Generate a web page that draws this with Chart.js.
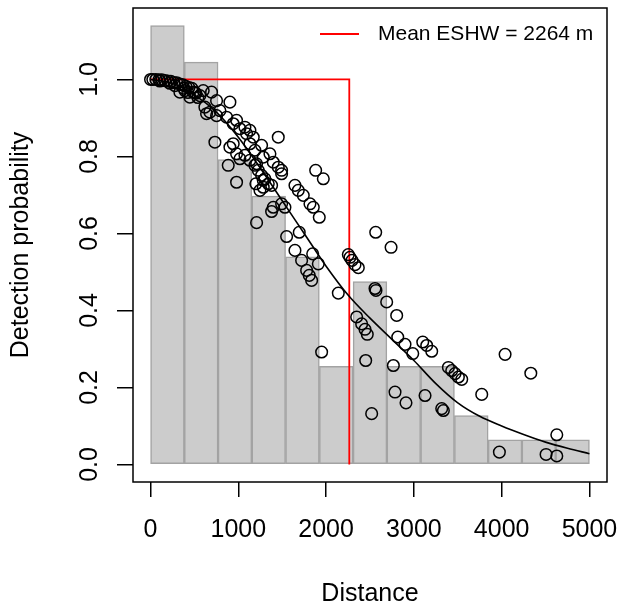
<!DOCTYPE html>
<html>
<head>
<meta charset="utf-8">
<script src="https://cdn.jsdelivr.net/npm/chart.js@4"></script>
<style>
  body { margin: 0; background: #fff; }
  #wrap { width: 620px; height: 609px; }
</style>
</head>
<body>
<div id="wrap"><canvas id="chart" width="620" height="609"></canvas></div>
<script>
// histogram of distances (scaled to the detection function)
const histBreaks = [0, 385, 769, 1154, 1538, 1923, 2308, 2692, 3077, 3462, 3846, 4231, 4615, 5000];
const histHeights = [1.140, 1.045, 0.792, 0.697, 0.539, 0.255, 0.475, 0.255, 0.255, 0.127, 0.064, 0.064, 0.064];

// fitted detection function (average)
const curveDist = [0, 250, 500, 750, 1000, 1250, 1500, 1750, 2000, 2250, 2500, 2750, 3000, 3250, 3500, 3750, 4000, 4250, 4500, 4750, 5000];
const curveProb = [1.0, 0.99, 0.96, 0.915, 0.85, 0.77, 0.685, 0.60, 0.515, 0.44, 0.38, 0.325, 0.27, 0.21, 0.16, 0.125, 0.10, 0.078, 0.058, 0.042, 0.028];

// per-observation detection probabilities
const pointDist = [0, 26, 60, 95, 129, 163, 197, 231, 266, 300, 334, 368, 402, 437, 471, 334, 380, 448, 486, 516, 562, 600,
  106, 220, 277, 391, 505, 539, 425,
  619, 638, 695, 752, 790, 676, 752, 904, 866, 942, 980, 1075, 1132, 1170, 733, 904, 980, 885, 980, 1018, 1094, 942, 1018,
  1132, 1075, 1132, 1189, 1189, 1227, 1265, 1360, 1455, 1265, 1303, 1341, 1284, 1398, 1493, 1455, 1208, 1208, 1246, 1284,
  1379, 1200, 1379, 1398, 1493, 1531, 1493, 1284, 1550, 1694, 1645, 1721, 1847, 1911, 1778, 1808, 1835, 1881, 1968, 1645,
  1683, 1740, 1816, 1854, 1922, 2139, 2253, 2272, 2295, 2329, 2367, 2565, 2740, 2348, 2405, 2443, 2469, 2557, 2568, 2690,
  2804, 2816, 2899, 2987, 3101, 3146, 3203, 2451, 2766, 1949, 2519, 2785, 2910, 3127, 3317, 3336, 3393, 3431, 3469, 3507,
  3545, 4039, 4332, 3773, 3974, 4628, 4506, 4628];
const pointProb = [1.000, 1.000, 1.000, 0.999, 0.999, 0.997, 0.996, 0.995, 0.992, 0.991, 0.988, 0.986, 0.982, 0.979, 0.977, 0.967, 0.977, 0.954, 0.967, 0.964, 0.958, 0.971,
  0.996, 0.990, 0.984, 0.971, 0.966, 0.953, 0.966,
  0.928, 0.911, 0.967, 0.945, 0.919, 0.915, 0.906, 0.941, 0.902, 0.885, 0.894, 0.876, 0.868, 0.850, 0.837, 0.824, 0.807, 0.777, 0.733, 0.872, 0.859, 0.833, 0.794,
  0.833, 0.803, 0.790, 0.816, 0.777, 0.764, 0.829, 0.807, 0.850, 0.751, 0.742, 0.729, 0.798, 0.785, 0.764, 0.772, 0.628, 0.781, 0.712, 0.720,
  0.725, 0.729, 0.657, 0.668, 0.677, 0.668, 0.755, 0.738, 0.592, 0.603, 0.556, 0.530, 0.547, 0.521, 0.504, 0.491, 0.478, 0.764, 0.742, 0.725,
  0.712, 0.699, 0.677, 0.668, 0.642, 0.445, 0.545, 0.538, 0.530, 0.519, 0.511, 0.603, 0.564, 0.383, 0.365, 0.351, 0.338, 0.457, 0.452, 0.422,
  0.387, 0.331, 0.312, 0.288, 0.318, 0.309, 0.294, 0.270, 0.257, 0.292, 0.132, 0.188, 0.160, 0.179, 0.145, 0.140, 0.252, 0.244, 0.236, 0.227,
  0.221, 0.286, 0.237, 0.182, 0.032, 0.077, 0.026, 0.022];

const eshw = 2264;
const legendLabel = 'Mean ESHW = ' + eshw + ' m';
const xTicks = [0, 1000, 2000, 3000, 4000, 5000];
const yTicks = [0, 0.2, 0.4, 0.6, 0.8, 1.0];
const yTickLabels = ['0.0', '0.2', '0.4', '0.6', '0.8', '1.0'];

const FONT = '"Liberation Sans", Arial, Helvetica, sans-serif';

// R style: full box, rotated y labels, legend without frame
const rStyle = {
  id: 'rStyle',
  afterDraw(chart) {
    const { ctx, chartArea: a, scales: { y } } = chart;
    ctx.save();
    ctx.strokeStyle = '#000';
    ctx.lineWidth = 1.5;
    ctx.strokeRect(a.left, a.top, a.right - a.left, a.bottom - a.top);

    ctx.fillStyle = '#000';
    ctx.font = '25px ' + FONT;
    ctx.textAlign = 'center';
    ctx.textBaseline = 'alphabetic';
    yTicks.forEach((v, i) => {
      ctx.save();
      ctx.translate(a.left - 36, y.getPixelForValue(v));
      ctx.rotate(-Math.PI / 2);
      ctx.fillText(yTickLabels[i], 0, 0);
      ctx.restore();
    });

    const lx = a.right - 287, ly = a.top + 26;
    ctx.strokeStyle = 'red';
    ctx.lineWidth = 1.8;
    ctx.beginPath();
    ctx.moveTo(lx, ly);
    ctx.lineTo(lx + 39, ly);
    ctx.stroke();
    ctx.font = '21px ' + FONT;
    ctx.textAlign = 'left';
    ctx.textBaseline = 'middle';
    ctx.fillText(legendLabel, lx + 58, ly);
    ctx.restore();
  }
};

new Chart(document.getElementById('chart'), {
  type: 'bar',
  data: {
    datasets: [
      {
        type: 'scatter',
        data: pointDist.map((d, i) => ({ x: d, y: pointProb[i] })),
        pointRadius: 5.8,
        pointBorderColor: '#000',
        pointBackgroundColor: 'rgba(0,0,0,0)',
        pointBorderWidth: 1.5,
        order: 1
      },
      {
        type: 'line',
        data: curveDist.map((d, i) => ({ x: d, y: curveProb[i] })),
        borderColor: '#000',
        borderWidth: 1.6,
        pointRadius: 0,
        cubicInterpolationMode: 'monotone',
        order: 2
      },
      {
        type: 'line',
        data: [{ x: 0, y: 1 }, { x: eshw, y: 1 }, { x: eshw, y: 0 }],
        borderColor: '#ff0000',
        borderWidth: 1.8,
        pointRadius: 0,
        tension: 0,
        order: 3
      },
      {
        type: 'bar',
        data: histHeights.map((h, i) => ({ x: (histBreaks[i] + histBreaks[i + 1]) / 2, y: h })),
        backgroundColor: '#cccccc',
        borderColor: '#a3a3a3',
        borderWidth: 1.5,
        borderSkipped: false,
        barPercentage: 1,
        categoryPercentage: 1,
        order: 4
      }
    ]
  },
  options: {
    responsive: false,
    animation: false,
    layout: { padding: { top: 8, right: 13, left: 0, bottom: 0 } },
    plugins: { legend: { display: false }, tooltip: { enabled: false } },
    scales: {
      x: {
        type: 'linear',
        min: -200,
        max: 5200,
        offset: false,
        afterBuildTicks: s => { s.ticks = xTicks.map(v => ({ value: v })); },
        afterFit: s => { s.height = 127; s.paddingLeft = 0; s.paddingRight = 0; },
        ticks: { color: '#000', font: { size: 25, family: FONT }, padding: 18, maxRotation: 0, callback: v => String(v) },
        grid: { offset: false, drawOnChartArea: false, drawTicks: true, tickLength: 15, color: '#000', lineWidth: 1.5 },
        border: { display: false },
        title: { display: true, text: 'Distance', color: '#000', font: { size: 25, family: FONT }, padding: { top: 0, bottom: 0 } }
      },
      y: {
        type: 'linear',
        min: -0.0456,
        max: 1.1856,
        afterBuildTicks: s => { s.ticks = yTicks.map(v => ({ value: v })); },
        afterFit: s => { s.width = 133; s.paddingTop = 0; s.paddingBottom = 0; },
        ticks: { display: false },
        grid: { drawOnChartArea: false, drawTicks: true, tickLength: 16, color: '#000', lineWidth: 1.5 },
        border: { display: false },
        title: { display: true, text: 'Detection probability', color: '#000', font: { size: 25, family: FONT }, padding: { top: 6, bottom: 0 } }
      }
    }
  },
  plugins: [rStyle]
});
</script>
</body>
</html>
